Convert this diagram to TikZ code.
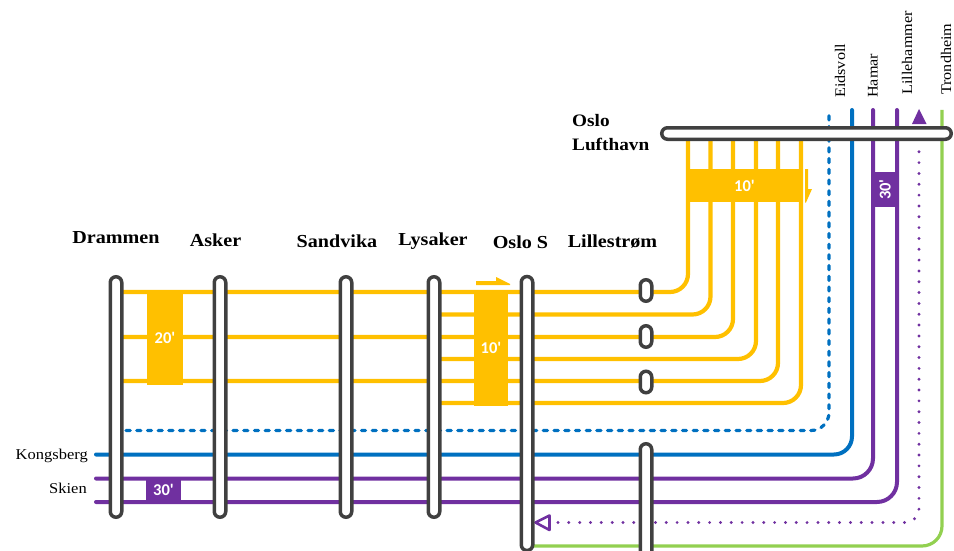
\documentclass[tikz,border=0pt]{standalone}
\usepackage{fontspec}
\setmainfont[FakeStretch=1.1]{Liberation Serif}
\newfontfamily\blockfont{Carlito}
\definecolor{yl}{HTML}{FFC000}
\definecolor{bl}{HTML}{0070C0}
\definecolor{pu}{HTML}{7030A0}
\definecolor{gr}{HTML}{92D050}
\definecolor{stn}{HTML}{404040}
\tikzset{
  x=1pt,y=-1pt,
  yline/.style={draw=yl,line width=4.2pt,rounded corners=18pt},
  bline/.style={draw=bl,line width=4pt,rounded corners=18pt,line cap=round},
  pline/.style={draw=pu,line width=4pt,rounded corners=20pt,line cap=round},
  gline/.style={draw=gr,line width=3.2pt,rounded corners=20pt},
  dashline/.style={bline,line width=3.2pt,line cap=round,dash pattern=on 4.2pt off 6.5pt},
  dotline/.style={draw=pu,line width=3.2pt,line cap=round,rounded corners=14pt,dash pattern=on 0pt off 10.83pt},
  station/.style={draw=stn,fill=white,line width=3.5pt,rounded corners=5.75pt,inner sep=0pt,minimum width=11.5pt},
  hstation/.style={draw=stn,fill=white,line width=3.5pt,rounded corners=5.75pt,inner sep=0pt,minimum height=11.5pt},
  yblock/.style={fill=yl,inner sep=0pt,text=white,font=\blockfont\fontsize{16.5}{16.5}\selectfont\bfseries},
  pblock/.style={fill=pu,inner sep=0pt,text=white,font=\blockfont\fontsize{16.5}{16.5}\selectfont\bfseries},
  stlabel/.style={font=\fontsize{18.3}{20}\selectfont\bfseries,inner sep=0pt},
  airlabel/.style={font=\fontsize{17.5}{20}\selectfont\bfseries,inner sep=0pt,anchor=west},
  linelabel/.style={font=\fontsize{15}{17}\selectfont,inner sep=0pt},
  vlabel/.style={font=\fontsize{14.7}{17}\selectfont,inner sep=0pt,rotate=90,anchor=west},
}
\begin{document}
\begin{tikzpicture}
\clip (0,0) rectangle (954,551);
% reference levels
\coordinate (a1) at (688,0); \coordinate (a2) at (710.5,0); \coordinate (a3) at (733,0);
\coordinate (a4) at (756,0); \coordinate (a5) at (778,0); \coordinate (a6) at (801,0);
\coordinate (aH) at (852,0); \coordinate (aI) at (873,0);
\coordinate (aL) at (897,0); \coordinate (aT) at (942,0);
\coordinate (r1) at (0,292); \coordinate (r2) at (0,314.5); \coordinate (r3) at (0,337);
\coordinate (r4) at (0,359); \coordinate (r5) at (0,381); \coordinate (r6) at (0,403);
\coordinate (top) at (0,110);
\coordinate (kStart) at (96,454.5); \coordinate (sStart1) at (96,478.5); \coordinate (sStart2) at (96,502);
\coordinate (dStart) at (126,430.5);
\coordinate (dotStart) at (558,522.5); \coordinate (dotEnd) at (919,148);
\coordinate (rG) at (0,546);
\coordinate (ePt) at (829,110);
\coordinate (xDr) at (116,0); \coordinate (xLy) at (434,0); \coordinate (xOs) at (527,0);
\coordinate (yLu) at (0,133.5);
% yellow lines
\draw[yline] (xDr |- r1) -| (a1 |- yLu);
\draw[yline] (xLy |- r2) -| (a2 |- yLu);
\draw[yline] (xDr |- r3) -| (a3 |- yLu);
\draw[yline] (xLy |- r4) -| (a4 |- yLu);
\draw[yline] (xDr |- r5) -| (a5 |- yLu);
\draw[yline] (xLy |- r6) -| (a6 |- yLu);
% eastern lines
\draw[dashline] (dStart) -| (ePt);
\draw[bline] (kStart) -| (aH |- top);
\draw[pline] (sStart1) -| (aI |- top);
\draw[pline] (sStart2) -| (aL |- top);
\draw[gline] (xOs |- rG) -| (aT |- top);
\draw[dotline] (dotStart) -| (dotEnd);
% blocks
\node[yblock,minimum width=36pt,minimum height=94pt] (b20) at (165,337.5) {20'};
\node[yblock,minimum width=34pt,minimum height=116pt] (b10a) at (491,348) {10'};
\node[yblock,minimum width=117pt,minimum height=33pt] (b10b) at (744.5,185.5) {10'};
\node[pblock,minimum width=28pt,minimum height=35pt] (b30a) at (885,189.5) {\rotatebox{90}{30'}};
\node[pblock,minimum width=35pt,minimum height=27pt] (b30b) at (163.5,490) {30'};
% direction arrows
\fill[yl] (476,281) -- (496,281) -- (496,277) -- (510,284) -- (510,285) -- (476,285) -- cycle;
\fill[yl] (805,169) -- (808,169) -- (808,189) -- (812,189) -- (806,202.5) -- (805,202.5) -- cycle;
\fill[pu] (919,109) -- (912,124) -- (926.5,124) -- cycle;
\draw[pu,line width=2.6pt,line join=round] (535.5,522.5) -- (549.5,515.5) -- (549.5,530) -- cycle;
% stations
\node[station,minimum height=240.5pt] (drammen) at (116,397) {};
\node[station,minimum height=240.5pt] (asker) at (220,397) {};
\node[station,minimum height=240.5pt] (sandvika) at (346,397) {};
\node[station,minimum height=240.5pt] (lysaker) at (434,397) {};
\node[station,minimum height=274pt] (osloS) at (527,413.5) {};
\node[station,minimum height=21.5pt] (lil1) at (646,290.5) {};
\node[station,minimum height=21.5pt] (lil2) at (646,336.5) {};
\node[station,minimum height=21.5pt] (lil3) at (646,382) {};
\node[station,minimum height=120pt] (lil4) at (646,503.75) {};
\node[hstation,minimum width=289.5pt] (lufthavn) at (806.5,133.5) {};
% labels
\node[stlabel] (lDr) at (116,238) {Drammen};
\node[stlabel] (lAs) at (215.5,240) {Asker};
\node[stlabel] (lSa) at (337,241) {Sandvika};
\node[stlabel] (lLy) at (433,241) {Lysaker};
\node[stlabel] (lOs) at (520.5,242) {Oslo S};
\node[stlabel] (lLi) at (612.5,242) {Lillestrøm};
\node[airlabel] (lO1) at (572,121) {Oslo};
\node[airlabel] (lO2) at (572,144) {Lufthavn};
\node[linelabel,anchor=east] (lKo) at (88,456) {Kongsberg};
\node[linelabel,anchor=east] (lSk) at (87,488) {Skien};
\node[vlabel] (lEi) at (840,98) {Eidsvoll};
\node[vlabel] (lHa) at (873,98) {Hamar};
\node[vlabel] (lLh) at (907,95) {Lillehammer};
\node[vlabel] (lTr) at (946,95) {Trondheim};
\end{tikzpicture}
\end{document}
